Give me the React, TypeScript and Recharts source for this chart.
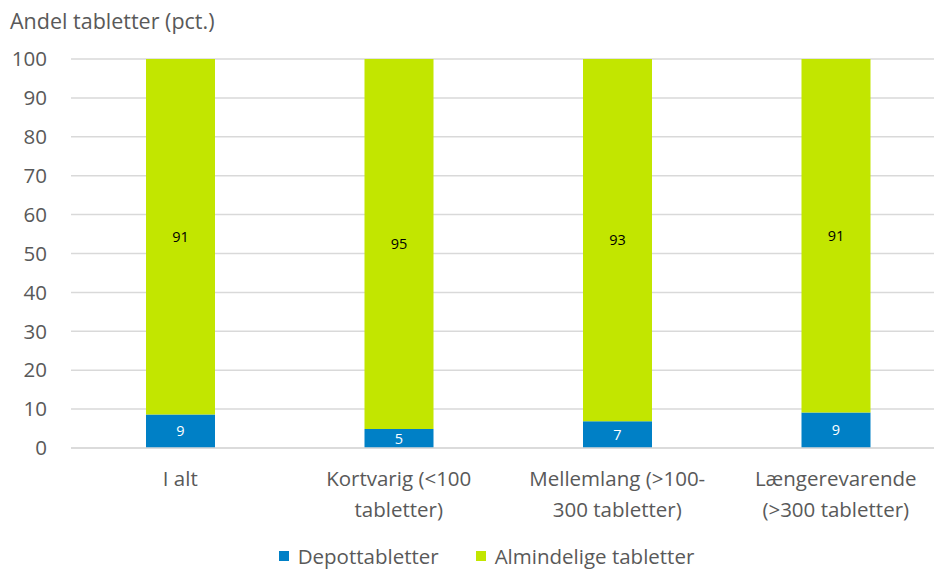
import { BarChart, Bar, XAxis, YAxis, CartesianGrid, Legend, LabelList } from "recharts";

const categories = [
  "I alt",
  "Kortvarig (<100\ntabletter)",
  "Mellemlang (>100-\n300 tabletter)",
  "Længerevarende\n(>300 tabletter)",
];
const depot = [8.6, 4.9, 6.9, 9.1];
const almindelige = [91.4, 95.1, 93.1, 90.9];
const yTicks = [0, 10, 20, 30, 40, 50, 60, 70, 80, 90, 100];

const data = categories.map((c, i) => ({
  name: c,
  depot: depot[i],
  alm: almindelige[i],
}));

const FONT = "'Open Sans', 'Noto Sans', sans-serif";
const TEXT = "#595959";
const BLUE = "#0080C6";
const GREEN = "#C2E600";

function CategoryTick({ x, y, payload }: any) {
  const lines = String(payload.value).split("\n");
  return (
    <text x={x} y={y} textAnchor="middle" fill={TEXT} fontSize={20.5} fontFamily={FONT}>
      {lines.map((l, i) => (
        <tspan key={i} x={x} dy={i === 0 ? 30 : 31}>
          {l}
        </tspan>
      ))}
    </text>
  );
}

function LegendContent() {
  const items = [
    { label: "Depottabletter", color: BLUE },
    { label: "Almindelige tabletter", color: GREEN },
  ];
  return (
    <div style={{ display: "flex", justifyContent: "center", gap: 37, fontFamily: FONT, fontSize: 20.5, color: TEXT, paddingTop: 14, transform: "translateX(14px)" }}>
      {items.map((it) => (
        <div key={it.label} style={{ display: "flex", alignItems: "center" }}>
          <span style={{ width: 10, height: 10, background: it.color, display: "inline-block", marginRight: 9 }} />
          {it.label}
        </div>
      ))}
    </div>
  );
}

export default function App() {
  return (
    <div style={{ position: "absolute", left: 0, top: 0, width: 934, height: 571, overflow: "hidden", background: "#fff" }}>
      <div style={{ position: "absolute", left: 10, top: 6, fontFamily: FONT, fontSize: 21.5, color: TEXT }}>
        Andel tabletter (pct.)
      </div>
      <BarChart
        width={950}
        height={571}
        data={data}
        margin={{ top: 59, right: 5, bottom: 0, left: 0 }}
        barSize={69}
      >
        <CartesianGrid vertical={false} stroke="#D9D9D9" strokeWidth={1.5} />
        <XAxis
          dataKey="name"
          tick={<CategoryTick />}
          tickLine={false}
          axisLine={{ stroke: "#D9D9D9", strokeWidth: 1.5 }}
          height={80}
          interval={0}
        />
        <YAxis
          domain={[0, 100]}
          ticks={yTicks}
          width={71}
          tickLine={false}
          axisLine={false}
          tickSize={0}
          tickMargin={24}
          tick={{ fill: TEXT, fontSize: 20.5, fontFamily: FONT }}
        />
        <Legend verticalAlign="bottom" height={43} content={<LegendContent />} />
        <Bar dataKey="depot" stackId="a" fill={BLUE} isAnimationActive={false}>
          <LabelList dataKey="depot" position="center" fill="#fff" fontSize={14.5} fontFamily={FONT} formatter={(v: any) => Math.round(v)} />
        </Bar>
        <Bar dataKey="alm" stackId="a" fill={GREEN} isAnimationActive={false}>
          <LabelList dataKey="alm" position="center" fill="#000" fontSize={14.5} fontFamily={FONT} formatter={(v: any) => Math.round(v)} />
        </Bar>
      </BarChart>
    </div>
  );
}
